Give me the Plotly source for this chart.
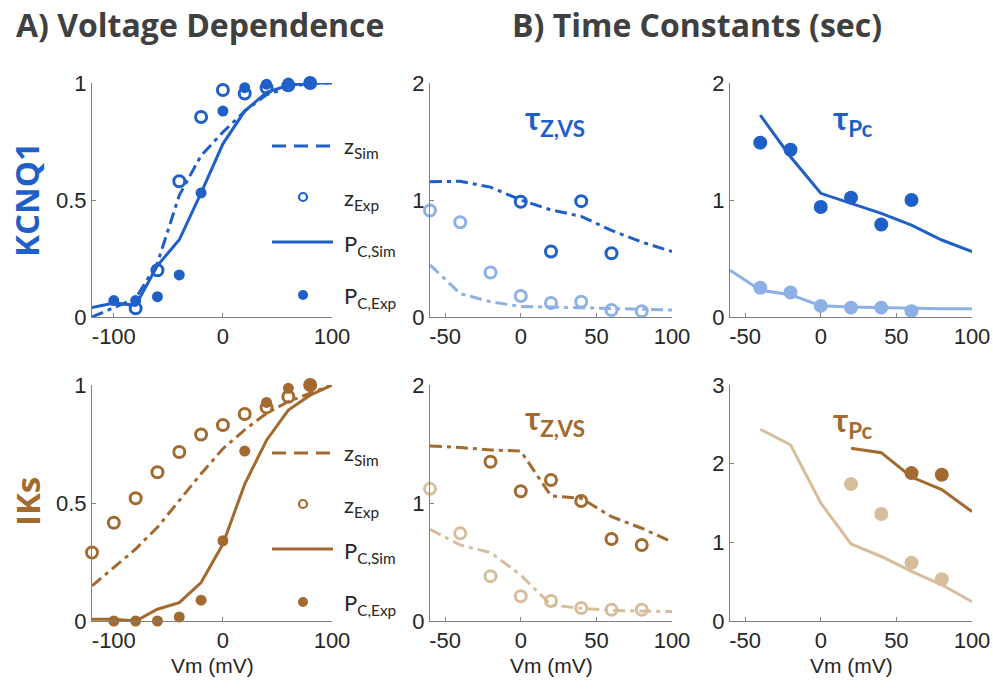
import plotly.graph_objects as go

W, H = 993, 694
BLUE = "#1F5FC8"; LBLUE = "#8EB1E5"; BROWN = "#A36A30"; LBROWN = "#D8BD9D"
TXT = "#262626"; AXC = "#808080"
DASH = "12px,5px,4px,5px"

# ---------------- data ----------------
vA = [-120, -100, -80, -60, -40, -20, 0, 20, 40, 60, 80, 100]
kc_z_sim = [0.0, 0.04, 0.08, 0.23, 0.52, 0.69, 0.79, 0.88, 0.95, 0.98, 1.0, 1.0]
kc_pc_sim = [0.04, 0.06, 0.05, 0.22, 0.33, 0.53, 0.74, 0.88, 0.96, 0.99, 1.0, 1.0]
kc_z_exp_v = [-80, -60, -40, -20, 0, 20, 40, 60, 80]
kc_z_exp = [0.037, 0.20, 0.58, 0.855, 0.97, 0.955, 0.98, 0.99, 1.0]
kc_pc_exp_v = [-100, -80, -60, -40, -20, 0, 20, 40, 60, 80]
kc_pc_exp = [0.07, 0.07, 0.087, 0.18, 0.53, 0.88, 0.98, 0.995, 1.0, 1.0]

iks_z_sim = [0.149, 0.227, 0.305, 0.397, 0.51, 0.624, 0.73, 0.81, 0.88, 0.93, 0.965, 1.0]
iks_pc_sim = [0.007, 0.007, 0.0, 0.05, 0.078, 0.163, 0.326, 0.58, 0.766, 0.894, 0.957, 1.0]
iks_z_exp_v = [-120, -100, -80, -60, -40, -20, 0, 20, 40, 60, 80]
iks_z_exp = [0.29, 0.416, 0.52, 0.63, 0.716, 0.79, 0.83, 0.877, 0.905, 0.95, 1.0]
iks_pc_exp_v = [-100, -80, -60, -40, -20, 0, 20, 40, 60, 80]
iks_pc_exp = [0.0, 0.0, 0.0, 0.017, 0.088, 0.34, 0.72, 0.926, 0.986, 1.0]

vT = [-60, -40, -20, 0, 20, 40, 60, 80, 100]
kc_tz_sim_d = [1.156, 1.16, 1.11, 1.0, 0.915, 0.86, 0.74, 0.64, 0.56]
kc_tz_exp_d_v = [0, 20, 40, 60]
kc_tz_exp_d = [0.985, 0.56, 0.99, 0.545]
kc_tz_sim_l = [0.445, 0.2, 0.13, 0.09, 0.085, 0.08, 0.07, 0.065, 0.06]
kc_tz_exp_l_v = [-60, -40, -20, 0, 20, 40, 60, 80]
kc_tz_exp_l = [0.91, 0.81, 0.38, 0.18, 0.12, 0.13, 0.06, 0.05]

kc_tp_sim_d_v = [-40, -20, 0, 20, 40, 60, 80, 100]
kc_tp_sim_d = [1.726, 1.37, 1.057, 0.97, 0.886, 0.786, 0.658, 0.56]
kc_tp_exp_d_v = [-40, -20, 0, 20, 40, 60]
kc_tp_exp_d = [1.49, 1.43, 0.94, 1.02, 0.79, 1.0]
kc_tp_sim_l = [0.40, 0.23, 0.19, 0.097, 0.085, 0.08, 0.07, 0.07, 0.07]
kc_tp_exp_l_v = [-40, -20, 0, 20, 40, 60]
kc_tp_exp_l = [0.25, 0.21, 0.095, 0.08, 0.08, 0.05]

iks_tz_sim_d = [1.483, 1.47, 1.45, 1.44, 1.06, 1.04, 0.884, 0.786, 0.67]
iks_tz_exp_d_v = [-20, 0, 20, 40, 60, 80]
iks_tz_exp_d = [1.35, 1.10, 1.195, 1.017, 0.695, 0.644]
iks_tz_sim_l = [0.777, 0.644, 0.58, 0.39, 0.136, 0.107, 0.09, 0.085, 0.08]
iks_tz_exp_l_v = [-60, -40, -20, 0, 20, 40, 60, 80]
iks_tz_exp_l = [1.12, 0.743, 0.38, 0.21, 0.17, 0.11, 0.095, 0.095]

iks_tp_sim_l_v = [-40, -20, 0, 20, 40, 60, 80, 100]
iks_tp_sim_l = [2.437, 2.24, 1.50, 0.98, 0.82, 0.63, 0.46, 0.245]
iks_tp_exp_l_v = [20, 40, 60, 80]
iks_tp_exp_l = [1.74, 1.36, 0.74, 0.53]
iks_tp_sim_d_v = [20, 40, 60, 80, 100]
iks_tp_sim_d = [2.195, 2.14, 1.83, 1.67, 1.39]
iks_tp_exp_d_v = [60, 80]
iks_tp_exp_d = [1.88, 1.86]

# ---------------- layout geometry (pixels) ----------------
cols = [(92, 332), (430, 672), (730, 972)]
rows = [(83, 317), (385, 621)]

def px(x): return x / W
def py(y): return 1 - y / H

fig = go.Figure()

def line(ax, x, y, color, dash=None, w=3):
    fig.add_trace(go.Scatter(x=x, y=y, mode="lines", xaxis="x" + ax, yaxis="y" + ax,
                             line=dict(color=color, width=w, dash=dash), cliponaxis=False,
                             showlegend=False, hoverinfo="skip"))

def pts(ax, x, y, color, open_=False, size=12):
    m = dict(color=color, size=size, symbol="circle-open" if open_ else "circle",
             line=dict(color=color, width=3 if open_ else 0))
    fig.add_trace(go.Scatter(x=x, y=y, mode="markers", xaxis="x" + ax, yaxis="y" + ax,
                             marker=m, cliponaxis=False, showlegend=False, hoverinfo="skip"))

# Panel A KCNQ1 (axis 1)
line("", vA, kc_z_sim, BLUE, DASH)
line("", vA, kc_pc_sim, BLUE)
pts("", kc_z_exp_v, kc_z_exp, BLUE, True, 11)
pts("", kc_pc_exp_v, kc_pc_exp, BLUE, False, 11)
# tau z KCNQ1 (axis 2)
line("2", vT, kc_tz_sim_d, BLUE, DASH)
line("2", vT, kc_tz_sim_l, LBLUE, DASH)
pts("2", kc_tz_exp_d_v, kc_tz_exp_d, BLUE, True, 11)
pts("2", kc_tz_exp_l_v, kc_tz_exp_l, LBLUE, True, 11)
# tau Pc KCNQ1 (axis 3)
line("3", kc_tp_sim_d_v, kc_tp_sim_d, BLUE)
line("3", vT, kc_tp_sim_l, LBLUE)
pts("3", kc_tp_exp_d_v, kc_tp_exp_d, BLUE, False, 14)
pts("3", kc_tp_exp_l_v, kc_tp_exp_l, LBLUE, False, 14)
# Panel A IKs (axis 4)
line("4", vA, iks_z_sim, BROWN, DASH)
line("4", vA, iks_pc_sim, BROWN)
pts("4", iks_z_exp_v, iks_z_exp, BROWN, True, 11)
pts("4", iks_pc_exp_v, iks_pc_exp, BROWN, False, 11)
# tau z IKs (axis 5)
line("5", vT, iks_tz_sim_d, BROWN, DASH)
line("5", vT, iks_tz_sim_l, LBROWN, DASH)
pts("5", iks_tz_exp_d_v, iks_tz_exp_d, BROWN, True, 11)
pts("5", iks_tz_exp_l_v, iks_tz_exp_l, LBROWN, True, 11)
# tau Pc IKs (axis 6)
line("6", iks_tp_sim_l_v, iks_tp_sim_l, LBROWN)
line("6", iks_tp_sim_d_v, iks_tp_sim_d, BROWN)
pts("6", iks_tp_exp_l_v, iks_tp_exp_l, LBROWN, False, 14)
pts("6", iks_tp_exp_d_v, iks_tp_exp_d, BROWN, False, 14)

TICKFONT = dict(family="Liberation Sans, Arial", size=22, color=TXT)
axcfg = dict(showline=True, linecolor=AXC, linewidth=1, ticks="inside", ticklen=4,
             tickcolor=AXC, showgrid=False, zeroline=False, tickfont=TICKFONT,
             fixedrange=True, automargin=False)

xr = {1: [-120, 100], 2: [-60, 100], 3: [-60, 100], 4: [-120, 100], 5: [-60, 100], 6: [-60, 100]}
yr = {1: [0, 1], 2: [0, 2], 3: [0, 2], 4: [0, 1], 5: [0, 2], 6: [0, 3]}
xt = {1: [-100, 0, 100], 2: [-50, 0, 50, 100], 3: [-50, 0, 50, 100]}
yt = {1: [0, 0.5, 1], 2: [0, 1, 2], 3: [0, 1, 2], 4: [0, 0.5, 1], 5: [0, 1, 2], 6: [0, 1, 2, 3]}

lay = {}
for i in range(1, 7):
    r = 0 if i <= 3 else 1
    c = (i - 1) % 3
    sfx = "" if i == 1 else str(i)
    x0, x1 = cols[c]; y0, y1 = rows[r]
    lay["xaxis" + sfx] = dict(axcfg, domain=[px(x0), px(x1)], range=xr[i], anchor="y" + sfx,
                              tickvals=xt[c + 1], ticktext=[str(v) for v in xt[c + 1]])
    lay["yaxis" + sfx] = dict(axcfg, domain=[py(y1), py(y0)], range=yr[i], anchor="x" + sfx,
                              tickvals=yt[i], ticktext=[("%g" % v) for v in yt[i]])
fig.update_layout(**lay)

ann = []
shapes = []
SANS = "Lato, Open Sans, sans-serif"
HEAD = "Open Sans, Lato, sans-serif"

def text(x, y, s, size, color, bold=False, angle=0, xanchor="center", family=SANS):
    ann.append(dict(x=px(x), y=py(y), xref="paper", yref="paper", text=("<b>%s</b>" % s) if bold else s,
                    showarrow=False, font=dict(family=family, size=size, color=color),
                    xanchor=xanchor, yanchor="middle", textangle=angle))

text(200, 24, "A) Voltage Dependence", 32, "#404040", True, family=HEAD)
text(697, 24, "B) Time Constants (sec)", 32, "#404040", True, family=HEAD)
text(27, 200, "KCNQ1", 33, BLUE, True, -90, family=HEAD)
text(27, 502, "IKs", 33, BROWN, True, -90, family=HEAD)
for cx in (212, 551, 851):
    text(cx, 665, "Vm (mV)", 21, TXT, family="Liberation Sans, Arial")
text(555, 120, "τ<sub>Z,VS</sub>", 32, BLUE, True)
text(853, 120, "τ<sub>Pc</sub>", 32, BLUE, True)
text(555, 420, "τ<sub>Z,VS</sub>", 32, BROWN, True)
text(853, 422, "τ<sub>Pc</sub>", 32, BROWN, True)

def legend(color, ys):
    yd, yo, ys_, yf = ys
    shapes.append(dict(type="line", xref="paper", yref="paper", x0=px(272), x1=px(333), y0=py(yd), y1=py(yd),
                       line=dict(color=color, width=3, dash="14px,8px")))
    shapes.append(dict(type="line", xref="paper", yref="paper", x0=px(272), x1=px(333), y0=py(ys_), y1=py(ys_),
                       line=dict(color=color, width=3)))
    r = 4
    shapes.append(dict(type="circle", xref="paper", yref="paper", x0=px(303 - r), x1=px(303 + r),
                       y0=py(yo + r), y1=py(yo - r), line=dict(color=color, width=2.2)))
    shapes.append(dict(type="circle", xref="paper", yref="paper", x0=px(303 - 5), x1=px(303 + 5),
                       y0=py(yf + 5), y1=py(yf - 5), line=dict(color=color, width=0), fillcolor=color))
    text(342, yd + 1, "z<sub>Sim</sub>", 22, TXT, xanchor="left")
    text(342, yo + 2, "z<sub>Exp</sub>", 22, TXT, xanchor="left")
    text(342, ys_ + 3, "P<sub>C,Sim</sub>", 22, TXT, xanchor="left")
    text(342, yf + 2, "P<sub>C,Exp</sub>", 22, TXT, xanchor="left")

legend(BLUE, (146, 197, 242, 295))
legend(BROWN, (453, 504, 549, 602))

fig.update_layout(width=W, height=H, margin=dict(l=0, r=0, t=0, b=0, autoexpand=False),
                  paper_bgcolor="white", plot_bgcolor="white", annotations=ann, shapes=shapes,
                  showlegend=False)
fig.write_html("out.html", config={"displayModeBar": False})
